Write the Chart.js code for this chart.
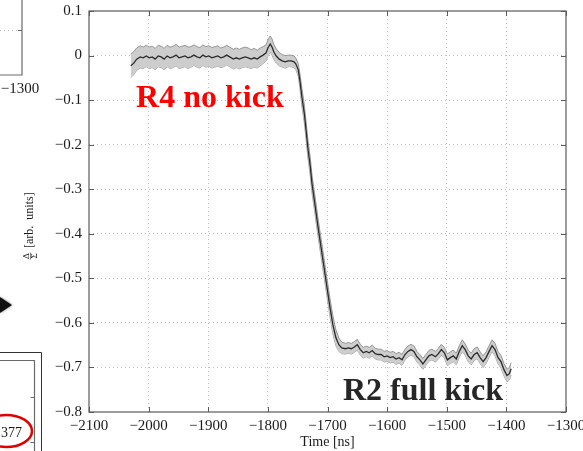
<!DOCTYPE html>
<html>
<head>
<meta charset="utf-8">
<script src="https://cdn.jsdelivr.net/npm/chart.js@4/dist/chart.umd.min.js"></script>
<style>
  html, body { margin: 0; padding: 0; background: #fff; }
  canvas { display: block; }
</style>
</head>
<body>
<canvas id="c" width="583" height="451"></canvas>
<script>
// Time axis of the averaged pickup signal [ns]
const timeNs = [
  -2030, -2025, -2020, -2014, -2009, -2004, -1999, -1994, -1989, -1984,
  -1979, -1974, -1969, -1964, -1959, -1954, -1949, -1944, -1939, -1934,
  -1929, -1924, -1919, -1914, -1909, -1904, -1899, -1894, -1889, -1884,
  -1879, -1874, -1869, -1864, -1858, -1853, -1848, -1843, -1838, -1833,
  -1828, -1823, -1818, -1813, -1808, -1803, -1800, -1796, -1793, -1790,
  -1786, -1781, -1776, -1771, -1766, -1761, -1756, -1753, -1749, -1746,
  -1743, -1739, -1736, -1733, -1729, -1726, -1721, -1716, -1711, -1706,
  -1701, -1696, -1691, -1686, -1681, -1676, -1670, -1665, -1660, -1655,
  -1650, -1645, -1640, -1635, -1630, -1625, -1620, -1615, -1610, -1605,
  -1600, -1595, -1590, -1585, -1580, -1575, -1570, -1565, -1560, -1555,
  -1550, -1545, -1540, -1535, -1530, -1525, -1519, -1514, -1509, -1504,
  -1499, -1494, -1489, -1484, -1479, -1474, -1469, -1464, -1459, -1454,
  -1449, -1444, -1439, -1434, -1429, -1424, -1419, -1414, -1409, -1404,
  -1399, -1395, -1392
];

// Mean normalised difference signal Δ/Σ [arb. units]
const meanSignal = [
  -0.023, -0.017, -0.008, -0.003, -0.005, -0.001, -0.005, -0.003, -0.008, -0.001,
  -0.003, -0.008, -0.001, -0.005, -0.003,  0.001, -0.005, -0.003, -0.001, -0.005,
  -0.003,  0.001, -0.003, -0.005,  0.001, -0.003, -0.001, -0.005, -0.003, -0.001,
  -0.005, -0.003,  0.001, -0.003, -0.008, -0.005, -0.008, -0.005, -0.003, -0.005,
  -0.008, -0.005, -0.008, -0.003,  0.001,  0.006,  0.017,  0.026,  0.019,  0.008,
  -0.001, -0.008, -0.012, -0.014, -0.012, -0.012, -0.014, -0.019, -0.032, -0.059,
  -0.093, -0.129, -0.167, -0.207, -0.248, -0.288, -0.335, -0.384, -0.429, -0.474,
  -0.519, -0.564, -0.604, -0.633, -0.649, -0.656, -0.658, -0.656, -0.658, -0.654,
  -0.649, -0.660, -0.667, -0.664, -0.667, -0.662, -0.669, -0.671, -0.671, -0.676,
  -0.674, -0.678, -0.676, -0.681, -0.678, -0.683, -0.671, -0.664, -0.660, -0.664,
  -0.676, -0.683, -0.692, -0.683, -0.674, -0.671, -0.676, -0.669, -0.660, -0.667,
  -0.683, -0.678, -0.674, -0.681, -0.664, -0.651, -0.660, -0.674, -0.681, -0.671,
  -0.667, -0.678, -0.687, -0.678, -0.664, -0.651, -0.660, -0.678, -0.687, -0.705,
  -0.718, -0.714, -0.703
];

// Shot-to-shot spread (one standard deviation) around the mean
const bandHalfWidth = [
  0.026, 0.026, 0.025, 0.025, 0.024, 0.024, 0.024, 0.024, 0.024, 0.024,
  0.024, 0.024, 0.024, 0.024, 0.024, 0.024, 0.024, 0.024, 0.024, 0.024,
  0.023, 0.023, 0.023, 0.023, 0.023, 0.023, 0.023, 0.023, 0.023, 0.023,
  0.022, 0.022, 0.022, 0.022, 0.022, 0.022, 0.022, 0.022, 0.022, 0.022,
  0.021, 0.021, 0.020, 0.020, 0.019, 0.018, 0.018, 0.018, 0.018, 0.017,
  0.016, 0.015, 0.014, 0.014, 0.013, 0.013, 0.013, 0.013, 0.014, 0.016,
  0.020, 0.020, 0.020, 0.020, 0.020, 0.020, 0.020, 0.020, 0.020, 0.020,
  0.020, 0.020, 0.020, 0.018, 0.015, 0.013, 0.012, 0.012, 0.012, 0.012,
  0.012, 0.012, 0.012, 0.012, 0.012, 0.012, 0.012, 0.012, 0.012, 0.012,
  0.012, 0.012, 0.012, 0.012, 0.012, 0.012, 0.012, 0.012, 0.012, 0.012,
  0.012, 0.012, 0.012, 0.012, 0.012, 0.012, 0.012, 0.012, 0.012, 0.012,
  0.013, 0.013, 0.013, 0.013, 0.013, 0.013, 0.013, 0.013, 0.013, 0.013,
  0.013, 0.013, 0.013, 0.013, 0.013, 0.013, 0.014, 0.014, 0.014, 0.014,
  0.014, 0.014, 0.014
];

// Axis ticks
const xTickValues = [-2100, -2000, -1900, -1800, -1700, -1600, -1500, -1400, -1300];
const yTickValues = [0.1, 0, -0.1, -0.2, -0.3, -0.4, -0.5, -0.6, -0.7, -0.8];

// Labels written on the plot
const regionLabels = [
  { text: 'R4 no kick',   t: -2021, v: -0.115, color: '#ff0000' },
  { text: 'R2 full kick', t: -1674, v: -0.773, color: '#262626' }
];

const SERIF = "'Liberation Serif', 'Times New Roman', serif";
const MINUS = '\u2212';

function fmtTick(v, digits) {
  const r = digits ? Math.round(v * 10) / 10 : Math.round(v);
  if (r === 0) return '0';
  const s = digits ? Math.abs(r).toFixed(1) : String(Math.abs(r));
  return (r < 0 ? MINUS : '') + s;
}

const meanPts  = timeNs.map((t, i) => ({ x: t, y: meanSignal[i] }));
const upperPts = timeNs.map((t, i) => ({ x: t, y: meanSignal[i] + bandHalfWidth[i] }));
const lowerPts = timeNs.map((t, i) => ({ x: t, y: meanSignal[i] - bandHalfWidth[i] }));

// Frame, inward ticks, axis titles, labels and the neighbouring panel edges
const framePlugin = {
  id: 'frame',
  afterDraw(chart) {
    const { ctx, chartArea: a, scales: { x, y } } = chart;
    ctx.save();

    // plot box
    ctx.strokeStyle = '#5a5a5a';
    ctx.lineWidth = 1.2;
    ctx.strokeRect(a.left, a.top, a.right - a.left, a.bottom - a.top);

    // inward tick marks on all four sides
    const tl = 5;
    ctx.lineWidth = 1;
    ctx.beginPath();
    xTickValues.forEach(v => {
      const px = Math.round(x.getPixelForValue(v)) + 0.5;
      ctx.moveTo(px, a.bottom); ctx.lineTo(px, a.bottom - tl);
      ctx.moveTo(px, a.top);    ctx.lineTo(px, a.top + tl);
    });
    yTickValues.forEach(v => {
      const py = Math.round(y.getPixelForValue(v)) + 0.5;
      ctx.moveTo(a.left, py);  ctx.lineTo(a.left + tl, py);
      ctx.moveTo(a.right, py); ctx.lineTo(a.right - tl, py);
    });
    ctx.stroke();

    // region labels
    ctx.font = 'bold 32px ' + SERIF;
    ctx.textAlign = 'left';
    ctx.textBaseline = 'alphabetic';
    regionLabels.forEach(l => {
      ctx.fillStyle = l.color;
      ctx.fillText(l.text, x.getPixelForValue(l.t), y.getPixelForValue(l.v));
    });

    // x-axis title
    ctx.fillStyle = '#1a1a1a';
    ctx.font = '14px ' + SERIF;
    ctx.textAlign = 'center';
    ctx.textBaseline = 'alphabetic';
    ctx.fillText('Time [ns]', (a.left + a.right) / 2, 446);

    // y-axis title: Δ/Σ [arb. units], rotated
    ctx.save();
    ctx.translate(30, 256);
    ctx.rotate(-Math.PI / 2);
    ctx.font = '9px ' + SERIF;
    ctx.textAlign = 'center';
    ctx.textBaseline = 'middle';
    ctx.fillText('\u0394', 0, -3.5);
    ctx.fillText('\u03A3', 0, 5);
    ctx.beginPath();
    ctx.moveTo(-3.5, 0.6); ctx.lineTo(3.5, 0.6);
    ctx.lineWidth = 0.6;
    ctx.strokeStyle = '#1a1a1a';
    ctx.stroke();
    ctx.font = '12px ' + SERIF;
    ctx.textAlign = 'left';
    ctx.textBaseline = 'middle';
    ctx.fillText('[arb.  units]', 8, 0);
    ctx.restore();

    // edge of the panel above-left
    ctx.strokeStyle = '#6a6a6a';
    ctx.lineWidth = 1.2;
    ctx.beginPath();
    ctx.moveTo(22, 0); ctx.lineTo(22, 75); ctx.lineTo(0, 75);
    ctx.moveTo(22, 30.5); ctx.lineTo(18, 30.5);
    ctx.stroke();
    ctx.save();
    ctx.strokeStyle = '#c0c0c0';
    ctx.lineWidth = 1;
    ctx.setLineDash([1, 3]);
    ctx.beginPath();
    ctx.moveTo(0, 30.5); ctx.lineTo(17, 30.5);
    ctx.stroke();
    ctx.restore();
    ctx.fillStyle = '#1a1a1a';
    ctx.font = '15px ' + SERIF;
    ctx.textAlign = 'center';
    ctx.textBaseline = 'middle';
    ctx.fillText(MINUS + '1300', 20, 89);

    // arrow pointing into the plot
    ctx.save();
    ctx.shadowColor = 'rgba(0,0,0,0.5)';
    ctx.shadowBlur = 3;
    ctx.fillStyle = '#111';
    ctx.beginPath();
    ctx.moveTo(0, 297); ctx.lineTo(12, 305); ctx.lineTo(0, 313);
    ctx.closePath();
    ctx.fill();
    ctx.restore();

    // edge of the panel below-left
    ctx.strokeStyle = '#333';
    ctx.lineWidth = 1;
    ctx.beginPath();
    ctx.moveTo(0, 352.5); ctx.lineTo(41.5, 352.5); ctx.lineTo(41.5, 451);
    ctx.stroke();
    ctx.strokeStyle = '#6a6a6a';
    ctx.lineWidth = 1.2;
    ctx.beginPath();
    ctx.moveTo(0, 360.5); ctx.lineTo(34.5, 360.5); ctx.lineTo(34.5, 451);
    ctx.moveTo(34.5, 397.5); ctx.lineTo(30.5, 397.5);
    ctx.moveTo(34.5, 442.5); ctx.lineTo(30.5, 442.5);
    ctx.stroke();
    ctx.fillStyle = '#1a1a1a';
    ctx.font = '14px ' + SERIF;
    ctx.textAlign = 'right';
    ctx.textBaseline = 'middle';
    ctx.fillText('377', 22, 433);
    ctx.strokeStyle = '#e00000';
    ctx.lineWidth = 2.5;
    ctx.beginPath();
    ctx.ellipse(6, 431, 26, 16, 0, 0, Math.PI * 2);
    ctx.stroke();

    ctx.restore();
  }
};

function fixAxisSize(size, horizontal) {
  return function (scale) {
    if (horizontal) scale.height = size; else scale.width = size;
    scale.paddingLeft = 0; scale.paddingRight = 0;
    scale.paddingTop = 0; scale.paddingBottom = 0;
  };
}

new Chart(document.getElementById('c'), {
  type: 'line',
  data: {
    datasets: [
      {
        label: 'mean',
        data: meanPts,
        borderColor: '#2b2b2b',
        borderWidth: 1.3,
        pointRadius: 0,
        tension: 0,
        fill: false,
        order: 0
      },
      {
        label: 'upper',
        data: upperPts,
        borderColor: '#8c8c8c',
        borderWidth: 0.9,
        backgroundColor: 'rgba(205,205,205,1)',
        pointRadius: 0,
        tension: 0,
        fill: '+1',
        order: 1
      },
      {
        label: 'lower',
        data: lowerPts,
        borderColor: '#8c8c8c',
        borderWidth: 0.9,
        pointRadius: 0,
        tension: 0,
        fill: false,
        order: 2
      }
    ]
  },
  options: {
    responsive: false,
    animation: false,
    events: [],
    layout: { padding: { top: 11, right: 17, left: 0, bottom: 0 } },
    plugins: {
      legend: { display: false },
      tooltip: { enabled: false },
      title: { display: false }
    },
    scales: {
      x: {
        type: 'linear',
        min: -2100,
        max: -1300,
        afterBuildTicks: s => { s.ticks = xTickValues.map(v => ({ value: v })); },
        afterFit: fixAxisSize(39, true),
        grid: {
          drawTicks: false,
          color: c => (c.tick && (c.tick.value === -2100 || c.tick.value === -1300)) ? 'rgba(0,0,0,0)' : '#bdbdbd',
          lineWidth: 1
        },
        border: { display: false, dash: [1, 3] },
        ticks: {
          padding: 5,
          maxRotation: 0,
          autoSkip: false,
          color: '#1a1a1a',
          font: { family: SERIF, size: 15 },
          callback: v => fmtTick(v, 0)
        }
      },
      y: {
        type: 'linear',
        min: -0.8,
        max: 0.1,
        afterBuildTicks: s => { s.ticks = yTickValues.map(v => ({ value: v })); },
        afterFit: fixAxisSize(89, false),
        grid: {
          drawTicks: false,
          color: c => (c.tick && (Math.abs(c.tick.value - 0.1) < 1e-9 || Math.abs(c.tick.value + 0.8) < 1e-9)) ? 'rgba(0,0,0,0)' : '#bdbdbd',
          lineWidth: 1
        },
        border: { display: false, dash: [1, 3] },
        ticks: {
          padding: 7,
          autoSkip: false,
          color: '#1a1a1a',
          font: { family: SERIF, size: 15 },
          callback: v => fmtTick(v, 1)
        }
      }
    }
  },
  plugins: [framePlugin]
});
</script>
</body>
</html>
